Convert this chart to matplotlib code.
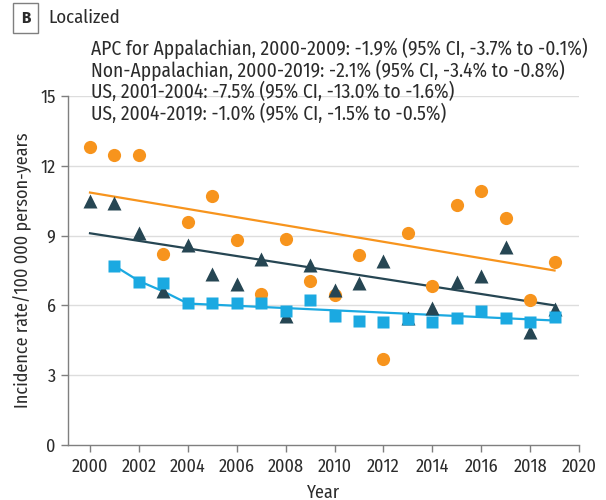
import numpy as np
import matplotlib.pyplot as plt

# Incidence rate per 100 000 person-years, localized stage
years = list(range(2000, 2020))
appalachian = [12.8, 12.45, 12.45, 8.2, 9.6, 10.7, 8.8, 6.5, 8.85, 7.05,
               6.45, 8.15, 3.7, 9.1, 6.85, 10.3, 10.9, 9.75, 6.25, 7.85]
non_appalachian = [10.5, 10.4, 9.1, 6.6, 8.6, 7.35, 6.9, 8.0, 5.55, 7.75,
                   6.65, 6.95, 7.9, 5.45, 5.9, 7.0, 7.25, 8.5, 4.85, 5.85]
us_years = list(range(2001, 2020))
us = [7.7, 7.0, 6.95, 6.1, 6.1, 6.1, 6.1, 5.75, 6.25, 5.55,
      5.35, 5.3, 5.4, 5.3, 5.45, 5.75, 5.45, 5.3, 5.5]

# joinpoint fits
app_fit_years = [2000, 2019]
app_fit = [10.85, 7.5]
non_fit_years = [2000, 2019]
non_fit = [9.1, 6.0]
us_fit_years = [2001, 2002, 2003, 2004, 2019]
us_fit = [7.7, 7.05, 6.6, 6.08, 5.35]

apc_lines = [
    "APC for Appalachian, 2000-2009: -1.9% (95% CI, -3.7% to -0.1%)",
    "Non-Appalachian, 2000-2019: -2.1% (95% CI, -3.4% to -0.8%)",
    "US, 2001-2004: -7.5% (95% CI, -13.0% to -1.6%)",
    "US, 2004-2019: -1.0% (95% CI, -1.5% to -0.5%)",
]

orange = "#F7941D"
dark = "#264653"
blue = "#1BA9E1"
grey = "#7f7f7f"
txt = "#2b2b2b"

plt.rcParams['font.family'] = ['Fira Sans Condensed', 'Roboto Condensed', 'DejaVu Sans']

fig = plt.figure(figsize=(6.06, 5.0), dpi=100)
ax = fig.add_axes([68 / 606, 1 - 445 / 500, (579 - 68) / 606, (445 - 96) / 500])

for yv in [3, 6, 9, 12, 15]:
    ax.axhline(yv, color="#dddddd", lw=1.0, zorder=0)

ax.plot(app_fit_years, app_fit, color=orange, lw=1.6, zorder=2)
ax.plot(non_fit_years, non_fit, color=dark, lw=1.6, zorder=2)
ax.plot(us_fit_years, us_fit, color=blue, lw=1.6, zorder=2)

ax.plot(years, appalachian, "o", color=orange, ms=9.5, mec="none", zorder=3)
ax.plot(years, non_appalachian, "^", color=dark, ms=10, mec="none", zorder=4)
ax.plot(us_years, us, "s", color=blue, ms=8.5, mec="none", zorder=5)

ax.set_xlim(1999.1, 2020)
ax.set_ylim(0, 15)
ax.set_xticks(range(2000, 2021, 2))
ax.set_yticks([0, 3, 6, 9, 12, 15])

for s in ["top", "right"]:
    ax.spines[s].set_visible(False)
for s in ["left", "bottom"]:
    ax.spines[s].set_color(grey)
    ax.spines[s].set_linewidth(1.0)
ax.tick_params(axis="both", colors=grey, length=5, width=1.0,
               labelsize=13, labelcolor=txt, pad=4)

ax.set_xlabel("Year", fontsize=13, color=txt, labelpad=6)
ax.set_ylabel("Incidence rate/100 000 person-years", fontsize=13, color=txt, labelpad=6)

# panel label
fig.text(25.5 / 606, 1 - 18 / 500, "B", fontsize=12, fontweight="bold", color=txt,
         ha="center", va="center",
         bbox=dict(boxstyle="square,pad=0.45", fc="white", ec=grey, lw=1.0))
fig.text(48 / 606, 1 - 18 / 500, "Localized", fontsize=13.5, color=txt, va="center")

for i, line in enumerate(apc_lines):
    fig.text(91 / 606, 1 - (48 + 22 * i) / 500, line, fontsize=14, color=txt, va="center")

fig.savefig("out.png", dpi=100)
